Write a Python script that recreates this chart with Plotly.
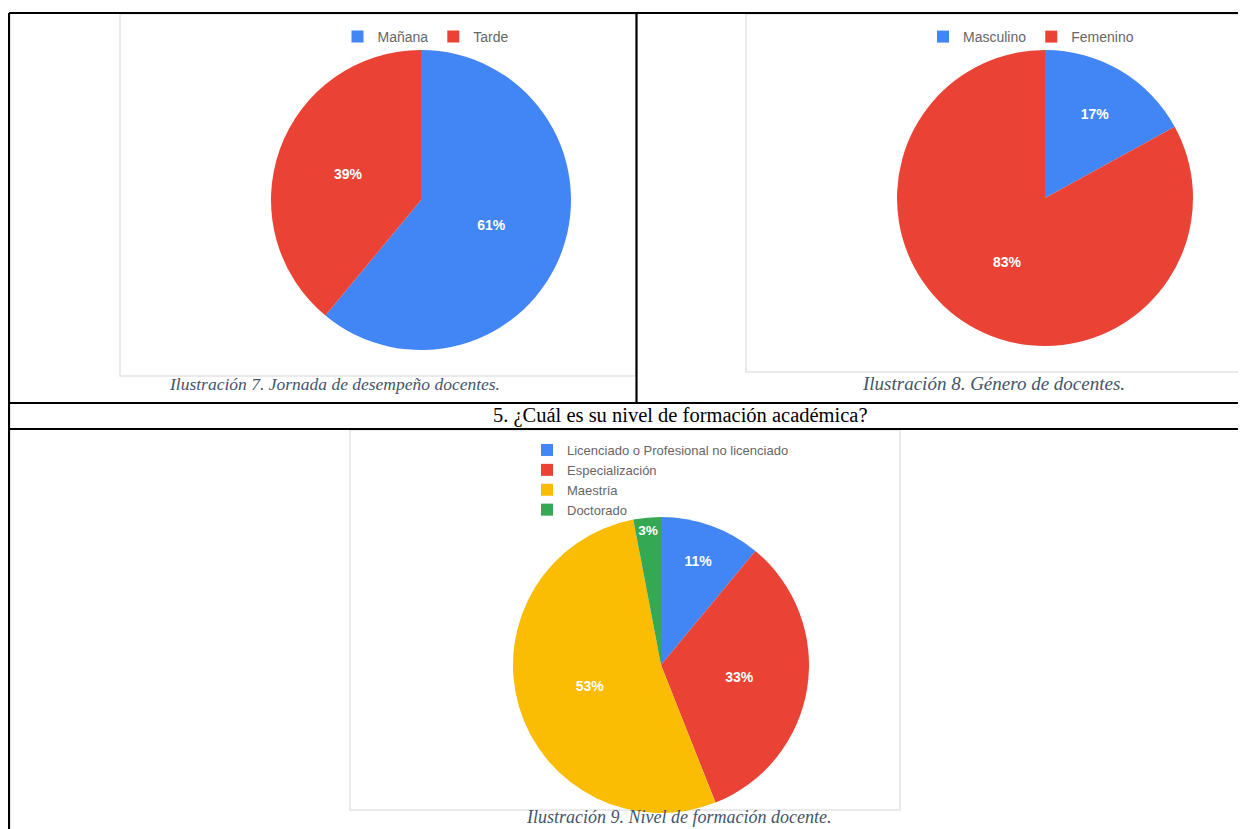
import plotly.graph_objects as go

# page body has an 8px margin; the figure is sized/offset so the 1246x829 view matches
OFF = 8
W, H = 1246 - OFF, 829 - OFF

# ---- data ----
jornada_labels = ["Mañana", "Tarde"]
jornada_values = [61, 39]

genero_labels = ["Masculino", "Femenino"]
genero_values = [17, 83]

formacion_labels = ["Licenciado o Profesional no licenciado", "Especialización", "Maestría", "Doctorado"]
formacion_values = [11, 33, 53, 3]

caption_7 = "Ilustración 7. Jornada de desempeño docentes."
caption_8 = "Ilustración 8. Género de docentes."
caption_9 = "Ilustración 9. Nivel de formación docente."
question_5 = "5. ¿Cuál es su nivel de formación académica?"

BLUE, RED, YELLOW, GREEN = "#4285F4", "#EA4335", "#FBBC04", "#34A853"


def fx(px):
    return (px - OFF) / W


def fy(py):
    return 1 - (py - OFF) / H


fig = go.Figure()

pie_common = dict(
    sort=False,
    direction="clockwise",
    rotation=0,
    texttemplate="%{percent:.0%}",
    textposition="inside",
    insidetextorientation="horizontal",
    textfont=dict(family="Arial", size=14, color="white", weight="bold"),
    marker=dict(line=dict(width=0)),
    hoverinfo="label+percent",
)

fig.add_trace(go.Pie(
    labels=jornada_labels, values=jornada_values,
    marker_colors=[BLUE, RED],
    domain=dict(x=[fx(271), fx(571)], y=[fy(351), fy(49)]),
    legend="legend",
    **pie_common,
))
fig.add_trace(go.Pie(
    labels=genero_labels, values=genero_values,
    marker_colors=[BLUE, RED],
    domain=dict(x=[fx(897), fx(1193)], y=[fy(347), fy(49)]),
    legend="legend2",
    **pie_common,
))
fig.add_trace(go.Pie(
    labels=formacion_labels, values=formacion_values,
    marker_colors=[BLUE, RED, YELLOW, GREEN],
    domain=dict(x=[fx(512), fx(810)], y=[fy(813), fy(517)]),
    legend="legend3",
    **pie_common,
))

shapes = []
# chart image frames
for (x0, y0, x1, y1) in [(120, 14, 636, 376), (746, 14, 1250, 372), (350, 430, 900, 810)]:
    shapes.append(dict(type="rect", xref="paper", yref="paper",
                       x0=fx(x0), x1=fx(x1), y0=fy(y1), y1=fy(y0),
                       fillcolor="white", line=dict(color="#e4e4e4", width=1.5),
                       layer="below"))
# table lines
lines = [
    (9, 13, 1250, 13),
    (9, 13, 9, 835),
    (636.5, 13, 636.5, 403),
    (9, 403, 1250, 403),
    (9, 429, 1250, 429),
]
for (x0, y0, x1, y1) in lines:
    shapes.append(dict(type="line", xref="paper", yref="paper",
                       x0=fx(x0), x1=fx(x1), y0=fy(y0), y1=fy(y1),
                       line=dict(color="black", width=2.2), layer="above"))

cap_color = "#44546A"
annotations = [
    dict(text="<i>" + caption_7 + "</i>", x=fx(334), y=fy(384),
         font=dict(family="Liberation Serif", size=17.5, color=cap_color)),
    dict(text="<i>" + caption_8 + "</i>", x=fx(994), y=fy(383),
         font=dict(family="Liberation Serif", size=19, color=cap_color)),
    dict(text="<i>" + caption_9 + "</i>", x=fx(678), y=fy(817),
         font=dict(family="Liberation Serif", size=18, color=cap_color)),
    dict(text=question_5, x=fx(680), y=fy(416),
         font=dict(family="Liberation Serif", size=20.5, color="black")),
]
for a in annotations:
    a.update(xref="paper", yref="paper", showarrow=False, xanchor="center", yanchor="middle")

leg_common = dict(bgcolor="rgba(0,0,0,0)", itemwidth=30, traceorder="normal")
fig.update_layout(
    width=W, height=H,
    margin=dict(l=0, r=0, t=0, b=0),
    paper_bgcolor="white",
    plot_bgcolor="white",
    shapes=shapes,
    annotations=annotations,
    legend=dict(orientation="h", x=fx(426), xanchor="center", y=fy(37), yanchor="middle",
                font=dict(family="Arial", size=14, color="#666666"), **leg_common),
    legend2=dict(orientation="h", x=fx(1031), xanchor="center", y=fy(37), yanchor="middle",
                 font=dict(family="Arial", size=14, color="#666666"), **leg_common),
    legend3=dict(orientation="v", x=fx(527), xanchor="left", y=fy(435), yanchor="top",
                 tracegroupgap=0, font=dict(family="Arial", size=13, color="#666666"), **leg_common),
)

fig.write_html("out.html")
